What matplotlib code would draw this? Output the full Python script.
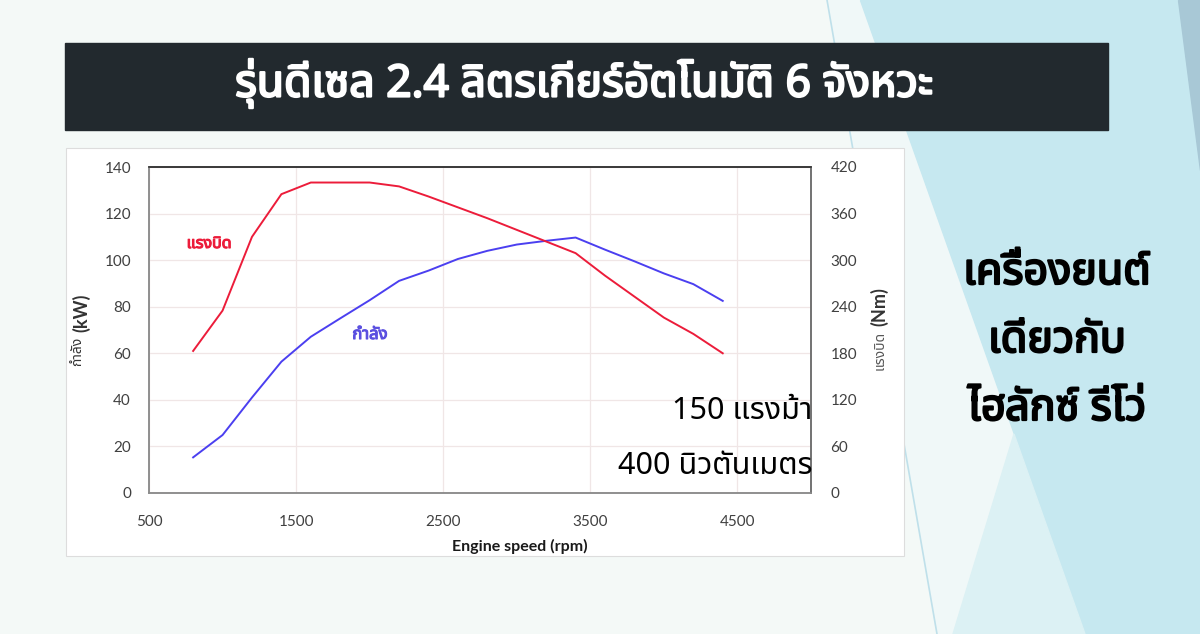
import numpy as np
import matplotlib
matplotlib.use('Agg')
import matplotlib.pyplot as plt
import matplotlib.patheffects as pe
from matplotlib import font_manager
from matplotlib.ft2font import FT2Font
from matplotlib.patches import Polygon, Rectangle

# engine data
rpm = [800, 1000, 1200, 1400, 1600, 1800, 2000, 2200, 2400, 2600, 2800,
       3000, 3200, 3400, 3600, 3800, 4000, 4200, 4400]
power_kw = [15.3, 24.9, 41.0, 56.4, 67.1, 75.0, 82.8, 91.1, 95.5, 100.5, 104.0,
            106.7, 108.3, 109.7, 104.5, 99.5, 94.3, 89.7, 82.5]
torque_nm = [183, 235, 330, 385, 400, 400, 400, 395, 382, 368, 354,
             339, 324, 309, 280, 253, 226, 205, 180]

x_ticks = [500, 1500, 2500, 3500, 4500]
kw_ticks = list(range(0, 141, 20))
nm_ticks = list(range(0, 421, 60))

title = 'รุ่นดีเซล 2.4 ลิตรเกียร์อัตโนมัติ 6 จังหวะ'
side_lines = ['เครื่องยนต์', 'เดียวกับ', 'ไฮลักซ์ รีโว่']


def thai_family():
    # find any installed font that has Thai glyphs
    names = []
    for f in font_manager.fontManager.ttflist:
        try:
            if 0x0E01 in FT2Font(f.fname).get_charmap():
                names.append(f.name)
        except Exception:
            pass
    for pref in ['Noto Sans Thai', 'Noto Sans Thai UI', 'Sarabun', 'Loma', 'Garuda']:
        if pref in names:
            return pref
    return names[0] if names else 'DejaVu Sans'


TH = thai_family()
LATIN = ['Lato', TH, 'DejaVu Sans']
MIXED = ['Noto Sans', TH, 'DejaVu Sans']
plt.rcParams['font.family'] = LATIN


def fake_bold(color, w=1.3):
    return [pe.withStroke(linewidth=w, foreground=color)]


W, H = 1200, 634
fig = plt.figure(figsize=(12, 6.34), dpi=100)

# slide background (pixel coords)
bg = fig.add_axes([0, 0, 1, 1])
bg.set_xlim(0, W)
bg.set_ylim(H, 0)
bg.axis('off')
bg.add_patch(Rectangle((0, 0), W, H, color='#f4f9f7', zorder=0))
bg.add_patch(Polygon([(827, 0), (W, 0), (W, H), (937, H)], color='#f0f8f8', zorder=1))
bg.add_patch(Polygon([(860, 0), (W, 0), (W, H), (1085, H)], color='#c6e8f0', zorder=2))
bg.add_patch(Polygon([(1014, 434), (1085, H), (953, H)], color='#dcf1f4', zorder=3))
bg.add_patch(Polygon([(1178, 0), (W, 0), (W, 170)], color='#a8c8d6', zorder=3))
bg.plot([827, 937], [0, H], color='#bfe0ea', lw=1.2, zorder=4)

# title bar
bg.add_patch(Rectangle((65, 43), 1043, 87, color='#22292e', zorder=5))
bg.text(584, 84, title, color='white', fontsize=32, fontweight='bold',
        ha='center', va='center', family=MIXED, zorder=6,
        path_effects=fake_bold('white', 1.6))

# white chart panel
bg.add_patch(Rectangle((66, 148), 838, 408, facecolor='white',
                       edgecolor='#dddddd', lw=0.8, zorder=5))

# right side text
for i, line in enumerate(side_lines):
    bg.text(1057, 273 + i * 68, line, fontsize=31, fontweight='bold',
            ha='center', va='center', family=MIXED, color='black', zorder=6,
            path_effects=fake_bold('black', 1.6))

# chart axes
ax = fig.add_axes([149 / W, 1 - 493 / H, 662 / W, 326 / H], zorder=10)
ax.set_facecolor('white')
ax.set_xlim(500, 5000)
ax.set_ylim(0, 140)
ax.set_xticks(x_ticks)
ax.set_yticks(kw_ticks)
ax.grid(True, color='#f0e6e6', lw=0.9)
ax.set_axisbelow(True)
ax.tick_params(length=0, labelsize=11, labelcolor='#404040', pad=13)
ax.tick_params(axis='x', pad=16)
ax.plot(rpm, power_kw, color='#4b3ff0', lw=1.4)

ax2 = ax.twinx()
ax2.set_ylim(0, 420)
ax2.set_yticks(nm_ticks)
ax2.tick_params(length=0, labelsize=11, labelcolor='#404040', pad=14)
ax2.plot(rpm, torque_nm, color='#ec1c3a', lw=1.4)

for a in (ax, ax2):
    a.spines['top'].set_color('#333333')
    a.spines['left'].set_color('#8c8c8c')
    a.spines['bottom'].set_color('#8c8c8c')
    a.spines['right'].set_color('#6e6e6e')
    for s in a.spines.values():
        s.set_linewidth(1.1)

# labels
fig.text(81 / W, 1 - 313 / H, '(kW)', rotation=90, fontsize=13, fontweight='bold',
         color='#333333', ha='center', va='center')
fig.text(78 / W, 1 - 351 / H, 'กำลัง', rotation=90, fontsize=10, color='#333333',
         ha='center', va='center', family=MIXED)
fig.text(879 / W, 1 - 307 / H, '(Nm)', rotation=90, fontsize=13, fontweight='bold',
         color='#333333', ha='center', va='center')
fig.text(880 / W, 1 - 350 / H, 'แรงบิด', rotation=90, fontsize=10, color='#555555',
         ha='center', va='center', family=MIXED)
fig.text(520 / W, 1 - 546 / H, 'Engine speed (rpm)', fontsize=11.5, fontweight='bold',
         color='#1a1a1a', ha='center', va='center')

ax.text(209, 244, 'แรงบิด', transform=bg.transData, color='#ec1c3a', fontsize=11.5,
        fontweight='bold', ha='center', va='center', family=MIXED,
        path_effects=fake_bold('#ec1c3a', 0.8))
ax.text(370, 335, 'กำลัง', transform=bg.transData, color='#5a4fe0', fontsize=12,
        fontweight='bold', ha='center', va='center', family=MIXED,
        path_effects=fake_bold('#5a4fe0', 0.8))

ax2.text(812, 411, '150 แรงม้า', transform=bg.transData, fontsize=22, color='black',
         ha='right', va='center', family=MIXED, zorder=20)
ax2.text(813, 466, '400 นิวตันเมตร', transform=bg.transData, fontsize=22, color='black',
         ha='right', va='center', family=MIXED, zorder=20)

fig.savefig('out.png', dpi=100)
